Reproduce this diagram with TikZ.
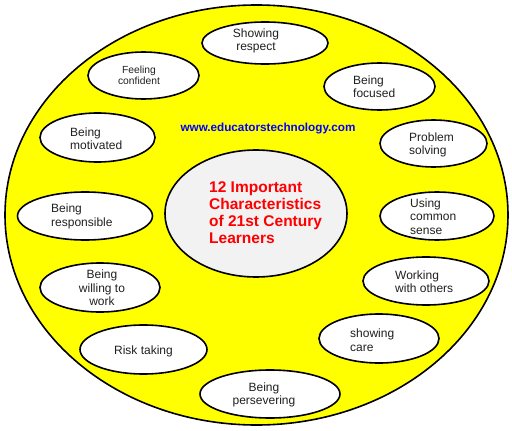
\documentclass[tikz,border=0pt]{standalone}
\usepackage{fontspec}
\setmainfont{Liberation Sans}
\usetikzlibrary{shapes.geometric}
\definecolor{bgyellow}{HTML}{FFFF00}
\definecolor{centergray}{HTML}{F2F2F2}
\definecolor{urlblue}{HTML}{0000FF}
\definecolor{titlered}{HTML}{FF0000}
\definecolor{txt}{HTML}{202020}
\begin{document}
\begin{tikzpicture}[x=1pt,y=-1pt,
  bigoval/.style={ellipse,draw=black,line width=1.6pt,fill=bgyellow,inner sep=0pt},
  hub/.style={ellipse,draw=black,line width=1.6pt,fill=centergray,inner sep=0pt},
  trait/.style={ellipse,draw=black,line width=1.6pt,fill=white,inner sep=0pt},
  lbl/.style={inner sep=0pt,text=txt,font=\fontsize{12pt}{13.5pt}\selectfont},
  lbll/.style={lbl,align=left,anchor=west},
  lblc/.style={lbl,align=center}]
\useasboundingbox (0,0) rectangle (512,431);
\node[bigoval,minimum width=503pt,minimum height=420pt] (big) at (256.5,215) {};
\node[hub,minimum width=182pt,minimum height=127pt] (hub) at (256,213.5) {};
\node[inner sep=0pt,anchor=west,align=left,text=titlered,font=\bfseries\fontsize{15.5pt}{17pt}\selectfont] (title) at (209,212.5)
  {12 Important\\Characteristics\\of 21st Century\\Learners};
\node[inner sep=0pt,text=urlblue,font=\bfseries\fontsize{11.7pt}{13pt}\selectfont] (url) at (268,128) {www.educatorstechnology.com};
% traits
\node[trait,minimum width=126pt,minimum height=42pt] (e1) at (265,43) {};
\node[lblc] (t1) at (256,41) {Showing\\respect};
\node[trait,minimum width=111pt,minimum height=47pt] (e2) at (143.5,75.5) {};
\node[lblc,font=\fontsize{10.3pt}{11.5pt}\selectfont] (t2) at (139,75.5) {Feeling\\confident};
\node[trait,minimum width=115pt,minimum height=49pt] (e3) at (97.5,137.5) {};
\node[lbll] (t3) at (70,138.5) {Being\\motivated};
\node[trait,minimum width=111pt,minimum height=47pt] (e4) at (379.5,86.5) {};
\node[lbll] (t4) at (353,86.5) {Being\\focused};
\node[trait,minimum width=107pt,minimum height=47pt] (e5) at (433.5,143.5) {};
\node[lbll] (t5) at (409,145) {Problem\\solving};
\node[trait,minimum width=114pt,minimum height=48pt] (e6) at (437,216) {};
\node[lbll] (t6) at (410,216.5) {Using\\common\\sense};
\node[trait,minimum width=126pt,minimum height=48pt] (e7) at (426,281) {};
\node[lbll] (t7) at (395,281.5) {Working\\with others};
\node[trait,minimum width=120pt,minimum height=49pt] (e8) at (379,338.5) {};
\node[lbll] (t8) at (350,340) {showing\\care};
\node[trait,minimum width=140pt,minimum height=48pt] (e9) at (270,394) {};
\node[lblc] (t9) at (264,395) {Being\\persevering};
\node[trait,minimum width=127pt,minimum height=49pt] (e10) at (143.5,349.5) {};
\node[lblc] (t10) at (143.5,351) {Risk taking};
\node[trait,minimum width=120pt,minimum height=49pt] (e11) at (100,287.5) {};
\node[lblc] (t11) at (102,288) {Being\\willing to\\work};
\node[trait,minimum width=135pt,minimum height=48pt] (e12) at (85,216) {};
\node[lbll] (t12) at (51,216.5) {Being\\responsible};
\end{tikzpicture}
\end{document}
